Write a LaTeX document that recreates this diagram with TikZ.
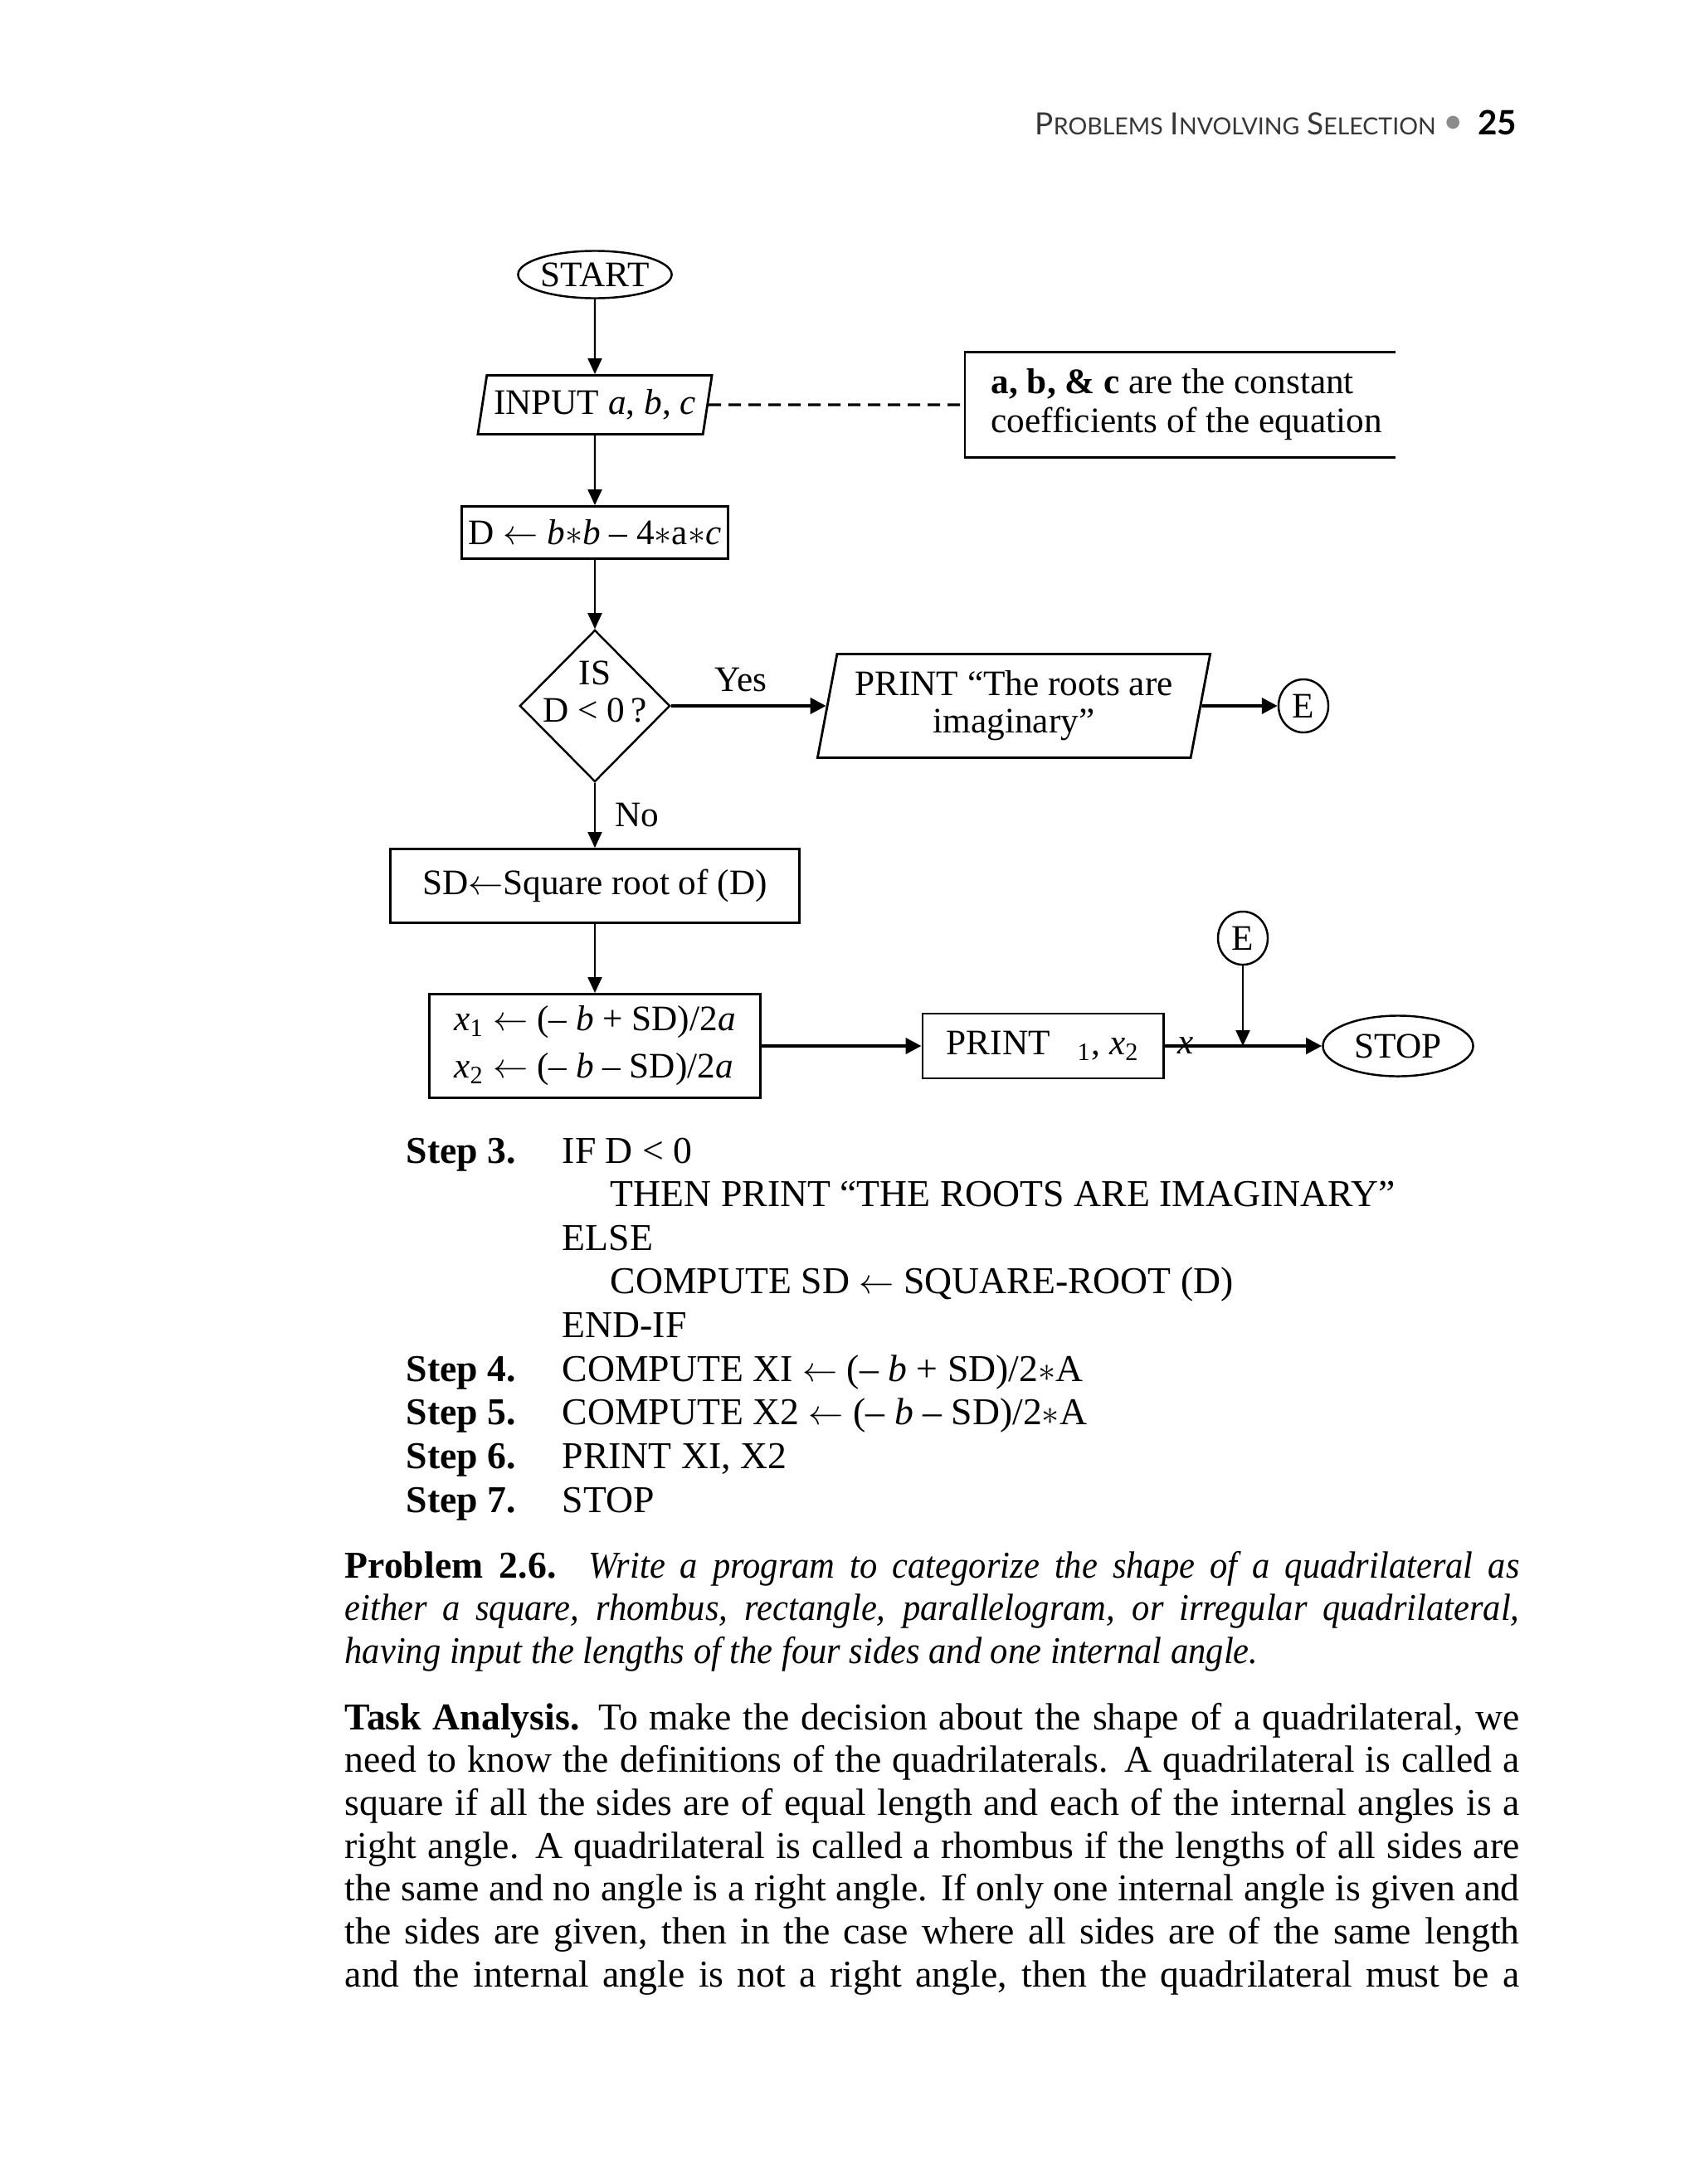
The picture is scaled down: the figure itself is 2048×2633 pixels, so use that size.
\documentclass[tikz,border=0pt]{standalone}
\usepackage{fontspec}
\setmainfont{Liberation Serif}
\setsansfont{Lato}
\usepackage{xcolor}
\usetikzlibrary{shapes.geometric, arrows.meta, positioning, calc}
\definecolor{headgray}{RGB}{55,55,55}
\definecolor{dotgray}{RGB}{140,140,140}
\newcommand{\hsc}[2]{{\fontsize{10.5}{12}\selectfont #1}{\fontsize{8.1}{10}\selectfont #2}}

\begin{document}
\begin{tikzpicture}[x=0.01cm, y=-0.01cm,
    every node/.style={font=\fontsize{12.3}{14}\selectfont},
    terminal/.style={draw, ellipse, line width=0.7pt, minimum width=1.81cm,
                     minimum height=0.57cm, inner sep=0pt},
    connector/.style={draw, ellipse, line width=0.7pt, minimum width=0.6cm,
                      minimum height=0.64cm, inner sep=0pt},
    procbox/.style={draw, rectangle, line width=0.8pt, inner sep=0pt},
    iobox/.style={draw, trapezium, trapezium stretches body, line width=0.8pt,
                  inner sep=0pt},
    decision/.style={draw, diamond, line width=0.7pt, inner sep=0pt,
                     minimum width=1.81cm, minimum height=1.83cm},
    flow/.style={-{Triangle[length=0.19cm, width=0.17cm]}, line width=0.6pt},
    bigflow/.style={-{Triangle[length=0.19cm, width=0.19cm]}, line width=1.1pt},
    bodytext/.style={anchor=base west, inner sep=0pt, font=\fontsize{13}{14.7}\selectfont}
]
    \fill[white] (0,0) rectangle (2048,2633);
    \useasboundingbox (0,0) rectangle (2048,2633);

    \node[anchor=base west, inner sep=0pt, text=headgray, font=\sffamily] (head) at (1247,162)
        {\hsc{P}{ROBLEMS} \hsc{I}{NVOLVING} \hsc{S}{ELECTION}};
    \node[text=dotgray, inner sep=0pt, font=\sffamily\fontsize{12}{12}\selectfont] (dot) at (1752,150) {•};
    \node[anchor=base east, inner sep=0pt, font=\sffamily\bfseries\fontsize{11.5}{12}\selectfont] (pageno) at (1829,162) {25};

    \node[terminal] (start) at (717,331) {START};
    \node[iobox, trapezium left angle=73.5, trapezium right angle=106.5,
          minimum width=2.82cm, minimum height=0.71cm] (input) at (717,488)
        {INPUT \textit{a}, \textit{b}, \textit{c}};
    \node[minimum width=5.17cm, minimum height=1.25cm, inner sep=0pt, anchor=west] (note) at (1163,488) {};
    \draw[line width=0.8pt] (note.north east) -- (note.north west) -- (note.south west) -- (note.south east);
    \node[anchor=west, align=left, inner sep=0pt, font=\fontsize{12.3}{13.4}\selectfont] (notetext)
        at ([xshift=0.31cm]note.west) {\textbf{a, b, \& c} are the constant\\coefficients of the equation};
    \node[procbox, minimum width=3.21cm, minimum height=0.63cm] (disc) at (717,642)
        {D $\leftarrow$ \textit{b}$*$\textit{b} – 4$*$a$*$\textit{c}};
    \node[decision, label={[yshift=0.17cm, align=center, font=\fontsize{12.3}{12.8}\selectfont]center:{IS\\D < 0\,?}}]
        (test) at (717,851) {};
    \node[iobox, trapezium left angle=74.4, trapezium right angle=105.6,
          minimum width=4.73cm, minimum height=1.25cm, align=center,
          font=\fontsize{12.3}{12.8}\selectfont] (msg) at (1222,851)
        {PRINT “The roots are\\imaginary”};
    \node[connector] (conA) at (1571,851) {E};
    \node[procbox, minimum width=4.92cm, minimum height=0.89cm] (sqroot) at (717,1068)
        {SD$\leftarrow$Square root of (D)};
    \node[connector] (conB) at (1498,1131) {E};
    \node[procbox, minimum width=3.98cm, minimum height=1.25cm, align=left,
          font=\fontsize{12.3}{16.2}\selectfont] (roots) at (717,1261)
        {\textit{x}\textsubscript{1} $\leftarrow$ (– \textit{b} + SD)/2\textit{a}\\
         \textit{x}\textsubscript{2} $\leftarrow$ (– \textit{b} – SD)/2\textit{a}};
    \node[procbox, minimum width=2.9cm, minimum height=0.78cm] (show) at (1257,1261)
        {PRINT\hspace{0.33cm}\textsubscript{1}, \textit{x}\textsubscript{2}};
    \node[terminal, minimum height=0.73cm] (stop) at (1685,1261) {STOP};

    \draw[flow] (start) -- (input);
    \draw[dashed, line width=0.9pt, dash pattern=on 0.15cm off 0.09cm] (input) -- (note);
    \draw[flow] (input) -- (disc);
    \draw[flow] (disc) -- (test);
    \draw[bigflow] (test) -- node[above=1pt, pos=0.45] {Yes} (msg);
    \draw[bigflow] (msg) -- (conA);
    \draw[flow] (test) -- node[right=3.4pt] {No} (sqroot);
    \draw[flow] (sqroot) -- (roots);
    \draw[bigflow] (roots) -- (show);
    \draw[bigflow] (show) -- node[pos=0.135, inner sep=0pt] {\textit{x}} coordinate[pos=0.5] (join) (stop);
    \draw[flow] (conB) -- (conB |- join);

    \node[bodytext, font=\fontsize{13}{14.97}\selectfont] (steps) at (489,1402)
        {\begin{tabular}[t]{@{}p{1.88cm}@{}l@{}}
         \textbf{Step 3.} & IF D < 0\\
          & \hspace*{0.58cm}THEN PRINT “THE ROOTS ARE IMAGINARY”\\
          & ELSE\\
          & \hspace*{0.58cm}COMPUTE SD $\leftarrow$ SQUARE-ROOT (D)\\
          & END-IF\\
         \textbf{Step 4.} & COMPUTE XI $\leftarrow$ (– \textit{b} + SD)/2$*$A\\
         \textbf{Step 5.} & COMPUTE X2 $\leftarrow$ (– \textit{b} – SD)/2$*$A\\
         \textbf{Step 6.} & PRINT XI, X2\\
         \textbf{Step 7.} & STOP
         \end{tabular}};

    \node[bodytext] (problem) at (415,1902)
        {\parbox[t]{14.15cm}{\hyphenpenalty=10000 \textbf{Problem 2.6.} {\itshape\addfontfeatures{FakeStretch=0.93}Write a program to categorize the shape of a quadrilateral as\linebreak
         either a square, rhombus, rectangle, parallelogram, or irregular quadrilateral,\linebreak
         having input the lengths of the four sides and one internal angle.}}};

    \node[bodytext] (task) at (415,2085)
        {\parbox[t]{14.15cm}{\hyphenpenalty=10000 \textbf{Task Analysis.} To make the decision about the shape of a quadrilateral, we\linebreak
         need to know the definitions of the quadrilaterals. A quadrilateral is called a\linebreak
         square if all the sides are of equal length and each of the internal angles is a\linebreak
         right angle. A quadrilateral is called a rhombus if the lengths of all sides are\linebreak
         the same and no angle is a right angle. If only one internal angle is given and\linebreak
         the sides are given, then in the case where all sides are of the same length\linebreak
         and the internal angle is not a right angle, then the quadrilateral must be a\linebreak}};
\end{tikzpicture}
\end{document}
